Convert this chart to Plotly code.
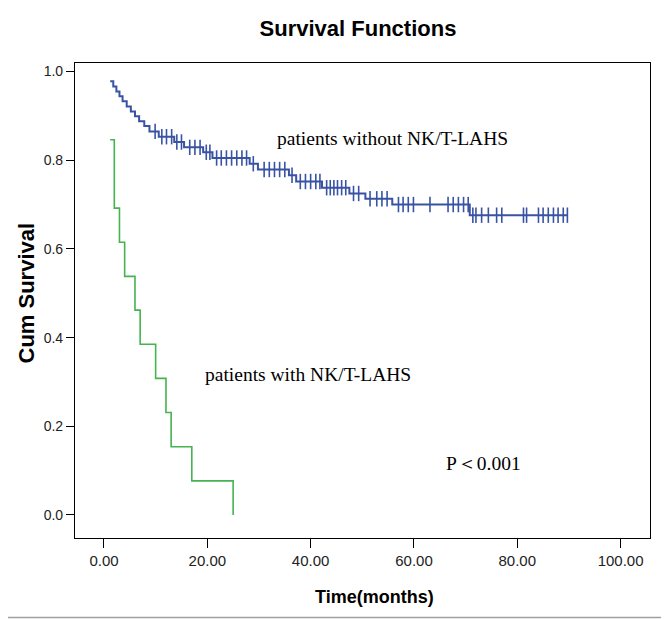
import numpy as np
import plotly.graph_objects as go

# ---------------- data ----------------
# Group without NK/T-LAHS (blue) : step points (time, cumulative survival)
blue_times = [1.2, 1.8, 2.4, 3.0, 3.6, 4.4, 5.2, 6.0, 6.8, 7.8, 8.8, 10.6, 13.6, 15.5,
              19.2, 21.0, 28.2, 29.8, 35.8, 37.2, 42.2, 47.5, 50.6, 55.8, 70.8, 89.7]
blue_surv = [0.978, 0.966, 0.955, 0.944, 0.933, 0.921, 0.910, 0.899, 0.888, 0.877, 0.865,
             0.853, 0.841, 0.829, 0.818, 0.805, 0.792, 0.779, 0.766, 0.752, 0.738, 0.725,
             0.713, 0.700, 0.676, 0.676]
blue_censored = [9.9, 11.2, 12.1, 13.1, 14.1, 15.0, 16.6, 17.6, 18.6, 19.8, 20.5,
                 21.8, 22.7, 23.7, 24.7, 25.7, 26.7, 27.6, 28.9, 31.0, 32.0, 33.0, 34.0, 35.0,
                 36.4, 38.0, 39.0, 40.0, 41.0, 41.8, 43.1, 43.8, 44.5, 45.2, 46.0, 46.8,
                 48.3, 49.3, 51.5, 52.8, 53.8, 54.8, 57.0, 57.9, 58.9, 59.9, 63.1, 66.6,
                 67.6, 68.6, 69.6, 70.5, 71.4, 72.0, 73.1, 74.4, 76.0, 77.0, 81.2, 81.8,
                 84.1, 85.0, 86.0, 87.0, 87.9, 88.9, 89.7]

# Group with NK/T-LAHS (green)
green_times = [1.2, 2.0, 3.0, 4.0, 6.0, 7.0, 10.0, 12.0, 13.0, 17.0, 25.0]
green_surv = [0.846, 0.692, 0.615, 0.538, 0.462, 0.385, 0.308, 0.231, 0.154, 0.077, 0.0]

x_ticks = [0, 20, 40, 60, 80, 100]
y_ticks = [0.0, 0.2, 0.4, 0.6, 0.8, 1.0]

label_without = "patients without NK/T-LAHS"
label_with = "patients with NK/T-LAHS"
p_text = "P＜0.001"

# ---------------- figure ----------------
# page has an 8px body margin, so the figure is drawn 8px in from the window edge
W, H = 661, 611
ML, MR, MT, MB = 67, 19, 55, 81
PW, PH = W - ML - MR, H - MT - MB

BLUE = "#3953a4"
GREEN = "#45b34f"

idx = np.searchsorted(np.array(blue_times), np.array(blue_censored), side="right") - 1
cens_y = np.array(blue_surv)[np.clip(idx, 0, len(blue_surv) - 1)]

fig = go.Figure()
fig.add_trace(go.Scatter(x=green_times, y=green_surv, mode="lines", line_shape="hv",
                         line=dict(color=GREEN, width=1.6), hoverinfo="skip"))
fig.add_trace(go.Scatter(x=blue_times, y=blue_surv, mode="lines", line_shape="hv",
                         line=dict(color=BLUE, width=2), hoverinfo="skip"))
fig.add_trace(go.Scatter(x=blue_censored, y=cens_y, mode="markers",
                         marker=dict(symbol="line-ns", size=11,
                                     line=dict(color=BLUE, width=1.6)),
                         hoverinfo="skip"))

tick_font = dict(family="Liberation Sans, Arial, sans-serif", size=14, color="#222222")

fig.update_xaxes(range=[-5.61, 105.69], tickvals=x_ticks, tickformat=".2f",
                 showgrid=False, zeroline=False, showline=True, linecolor="black",
                 linewidth=1.2, mirror=True, ticks="outside", ticklen=9, tickwidth=1.3,
                 tickcolor="black", tickfont=dict(tick_font, size=15))
fig.update_yaxes(range=[-0.0519, 1.0192], tickvals=y_ticks, tickformat=".1f",
                 showgrid=False, zeroline=False, showline=True, linecolor="black",
                 linewidth=1.2, mirror=True, ticks="outside", ticklen=8, tickwidth=1.3,
                 tickcolor="black", tickfont=tick_font)

serif = dict(family="Liberation Serif, Times New Roman, serif", size=19.5, color="black")
bold = dict(family="Liberation Sans, Arial, sans-serif", size=22, color="black")

annotations = [
    dict(x=33.1, y=0.848, xref="x", yref="y", text=label_without, showarrow=False,
         xanchor="left", yanchor="middle", font=serif),
    dict(x=19.2, y=0.316, xref="x", yref="y", text=label_with, showarrow=False,
         xanchor="left", yanchor="middle", font=serif),
    dict(x=65.8, y=0.115, xref="x", yref="y", text=p_text, showarrow=False,
         xanchor="left", yanchor="middle", font=serif),
    dict(x=(17.5 - ML) / PW, y=(H - MB - 285) / PH, xref="paper", yref="paper",
         text="<b>Cum Survival</b>", textangle=-90, showarrow=False,
         xanchor="center", yanchor="middle", font=bold),
    dict(x=(366 - ML) / PW, y=(H - MB - 589) / PH, xref="paper", yref="paper",
         text="<b>Time(months)</b>", showarrow=False,
         xanchor="center", yanchor="middle", font=dict(bold, size=18)),
]

# right and bottom edges of the grey outer picture border
shapes = [
    dict(type="line", xref="paper", yref="paper",
         x0=(658.5 - ML) / PW, x1=(658.5 - ML) / PW, y0=(H - MB - 609.5) / PH, y1=1 + MT / PH,
         line=dict(color="#a0a0a0", width=1.5)),
    dict(type="line", xref="paper", yref="paper",
         x0=-ML / PW, x1=(658.5 - ML) / PW, y0=(H - MB - 609.5) / PH, y1=(H - MB - 609.5) / PH,
         line=dict(color="#a0a0a0", width=1.5)),
]

fig.update_layout(
    width=W, height=H,
    margin=dict(l=ML, r=MR, t=MT, b=MB),
    paper_bgcolor="white", plot_bgcolor="white",
    showlegend=False,
    title=dict(text="<b>Survival Functions</b>", x=350 / W, xanchor="center",
               y=1 - 20 / H, yanchor="middle", font=dict(bold, size=22)),
    annotations=annotations,
    shapes=shapes,
)

fig.write_html("out.html")
